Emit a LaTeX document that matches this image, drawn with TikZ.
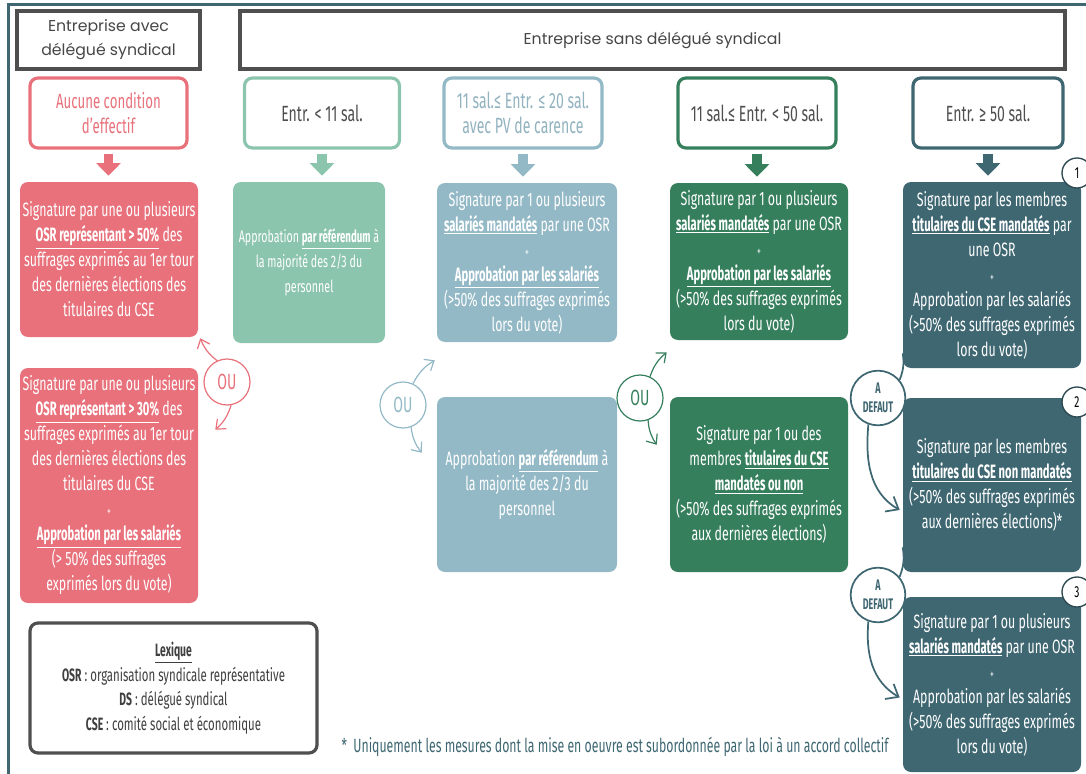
\documentclass[tikz,border=0pt]{standalone}
\usepackage{fontspec}
\setmainfont[FakeStretch=0.64, BoldFeatures={FakeStretch=0.58}]{Fira Sans}
\newfontfamily\titrefont{Poppins}
\usetikzlibrary{arrows.meta,calc}
\definecolor{rouge}{HTML}{E8717B}
\definecolor{vertclair}{HTML}{8CC5AD}
\definecolor{bleugris}{HTML}{94B9C6}
\definecolor{vert}{HTML}{367F5D}
\definecolor{canard}{HTML}{3F6772}
\definecolor{grisfonce}{HTML}{4F4F4F}
\newcommand{\souligne}[1]{\underline{\textbf{#1}}}
\newcommand{\plus}{{\fontsize{9}{18}\selectfont +}}

\begin{document}
\begin{tikzpicture}[x=0.75pt, y=-0.75pt,
  entete/.style={draw=grisfonce, line width=3pt, text=grisfonce!90!black, align=center,
    font=\titrefont\fontsize{11.8}{18}\selectfont},
  condition/.style={draw=#1, fill=white, line width=2.4pt, rounded corners=6pt,
    minimum height=52.5pt, align=center, text=grisfonce, font=\fontsize{16.5}{19}\selectfont},
  bloc/.style={fill=#1, rounded corners=6pt, text=white, align=center, inner sep=0pt,
    font=\fontsize{14.5}{18.75}\selectfont},
  fleche/.style={draw=#1, line width=7pt, -{Triangle[length=9.5pt,width=18pt]},
    shorten <=3pt, shorten >=4.5pt},
  ou/.style={circle, draw=#1, text=#1, fill=white, line width=0.9pt, minimum size=34.5pt,
    inner sep=0pt, font=\fontsize{16.5}{16}\selectfont},
  lien/.style={draw=#1, line width=0.9pt, -{Straight Barb[length=6pt,width=10pt]}},
  trait/.style={draw=canard, line width=1.3pt},
  defaut/.style={circle, draw=canard, text=canard, fill=white, line width=1.3pt,
    minimum size=41pt, inner sep=0pt, align=center, font=\bfseries\fontsize{11.5}{14}\selectfont},
  numero/.style={circle, draw=canard!70!black, fill=white, line width=1pt,
    minimum size=22.5pt, inner sep=0pt, font=\fontsize{12}{12}\selectfont}]
  \useasboundingbox (0,0) rectangle (1086,774);
  \draw[canard, line width=2.25pt] (8,774) -- (8,5) -- (1086,5);

  % en-tetes
  \node[entete, minimum width=137.25pt, minimum height=43.5pt] (hAvec) at (108.5,40) {Entreprise avec\\délégué syndical};
  \node[entete, minimum width=618.75pt, minimum height=43.5pt] (hSans) at (652.5,40) {Entreprise sans délégué syndical};

  % conditions d'effectif
  \node[condition=rouge, text=rouge, minimum width=117.75pt, font=\fontsize{15.5}{19}\selectfont] (cR) at (108.5,113) {Aucune condition\\d'effectif};
  \node[condition=vertclair, minimum width=116.25pt] (cV) at (322,113) {Entr. < 11 sal.};
  \node[condition=bleugris, text=bleugris!90!gray, minimum width=118.5pt] (cB) at (523,113) {11 sal.≤ Entr. ≤ 20 sal.\\avec PV de carence};
  \node[condition=vert, minimum width=118.5pt] (cG) at (757,113) {11 sal.≤ Entr. < 50 sal.};
  \node[condition=canard, minimum width=112.5pt] (cT) at (988,113) {Entr. ≥ 50 sal.};

  % modes de conclusion
  \node[bloc=rouge, minimum width=133.5pt, minimum height=116.25pt] (rA) at (109,259.5)
    {Signature par une ou plusieurs\\\souligne{OSR représentant > 50\%} des\\suffrages exprimés au 1er tour\\des dernières élections des\\titulaires du CSE};
  \node[bloc=rouge, minimum width=133.5pt, minimum height=176.25pt] (rB) at (109,485.5)
    {Signature par une ou plusieurs\\\souligne{OSR représentant > 30\%} des\\suffrages exprimés au 1er tour\\des dernières élections des\\titulaires du CSE\\\plus\\\souligne{Approbation par les salariés}\\(> 50\% des suffrages\\exprimés lors du vote)};
  \node[bloc=vertclair, minimum width=114pt, minimum height=120.75pt, font=\fontsize{12.5}{18.75}\selectfont] (vA) at (309,262.5)
    {Approbation \souligne{par référendum} à\\la majorité des 2/3 du\\personnel};
  \node[bloc=bleugris, minimum width=135pt, minimum height=119.25pt] (bA) at (527,262.5)
    {Signature par 1 ou plusieurs\\\souligne{salariés mandatés} par une OSR\\\plus\\\souligne{Approbation par les salariés}\\(>50\% des suffrages exprimés\\lors du vote)};
  \node[bloc=bleugris, minimum width=135pt, minimum height=131.25pt] (bB) at (527,484.5)
    {Approbation \souligne{par référendum} à\\la majorité des 2/3 du\\personnel};
  \node[bloc=vert, minimum width=133.5pt, minimum height=117.75pt] (gA) at (759,261.5)
    {Signature par 1 ou plusieurs\\\souligne{salariés mandatés} par une OSR\\\plus\\\souligne{Approbation par les salariés}\\(>50\% des suffrages exprimés\\lors du vote)};
  \node[bloc=vert, minimum width=133.5pt, minimum height=131.25pt] (gB) at (759,484.5)
    {Signature par 1 ou des\\membres \souligne{titulaires du CSE}\\\souligne{mandatés ou non}\\(>50\% des suffrages exprimés\\aux dernières élections)};
  \node[bloc=canard, minimum width=133.5pt, minimum height=139.5pt] (tA) at (992,275)
    {Signature par les membres\\\souligne{titulaires du CSE mandatés} par\\une OSR\\\plus\\Approbation par les salariés\\(>50\% des suffrages exprimés\\lors du vote)};
  \node[bloc=canard, minimum width=133.5pt, minimum height=130.5pt] (tB) at (992,485)
    {Signature par les membres\\\souligne{titulaires du CSE non mandatés}\\(>50\% des suffrages exprimés\\aux dernières élections)*};
  \node[bloc=canard, minimum width=133.5pt, minimum height=131.25pt] (tC) at (992,684.5)
    {Signature par 1 ou plusieurs\\\souligne{salariés mandatés} par une OSR\\\plus\\Approbation par les salariés\\(>50\% des suffrages exprimés\\lors du vote)};

  % fleches pleines
  \draw[fleche=rouge] (cR.south) -- (cR.south |- rA.north);
  \draw[fleche=vertclair] (cV.south) -- (cV.south |- vA.north);
  \draw[fleche=bleugris] (cB.south) -- (cB.south |- bA.north);
  \draw[fleche=vert] (cG.south) -- (cG.south |- gA.north);
  \draw[fleche=canard] (cT.south) -- (cT.south |- tA.north);

  % OU
  \node[ou=rouge] (ouR) at (227,382) {OU};
  \node[ou=bleugris] (ouB) at (403,405) {OU};
  \node[ou=vert] (ouG) at (640,398) {OU};
  \coordinate (pR) at ($(rB.north east)+(17,62)$);
  \coordinate (pB1) at ($(bA.south west)+(-2,18)$);
  \coordinate (pB2) at ($(bB.north west)+(-15,56)$);
  \coordinate (pG1) at ($(gA.south west)+(-3,12)$);
  \coordinate (pG2) at ($(gB.north west)+(-13,48)$);
  \draw[lien=rouge] (ouR.115) to[bend left=15] ($(rA.south east)+(2,1)$);
  \draw[lien=rouge] (ouR.-80) to[bend left=15] (pR);
  \draw[lien=bleugris] (ouB.65) to[bend left=15] (pB1);
  \draw[lien=bleugris] (ouB.-70) to[bend right=15] (pB2);
  \draw[lien=vert] (ouG.65) to[bend left=15] (pG1);
  \draw[lien=vert] (ouG.-70) to[bend right=15] (pG2);

  % A DEFAUT
  \node[defaut] (dA) at (878,398) {A\\DEFAUT};
  \node[defaut] (dB) at (878,595) {A\\DEFAUT};
  \coordinate (sA) at ($(tA.south west)+(0,-15)$);
  \coordinate (sB) at ($(tB.south west)+(0,-25)$);
  \coordinate (eA) at ($(tB.west)+(-3,25)$);
  \coordinate (eB) at ($(tC.west)+(-3,13)$);
  \draw[trait] (sA) to[bend left=15] (dA.40);
  \draw[trait] (sB) to[bend left=15] (dB.40);
  \draw[trait, -{Straight Barb[length=8pt,width=13pt]}] (dA.-110) to[out=-95, in=150] (eA);
  \draw[trait, -{Straight Barb[length=8pt,width=13pt]}] (dB.-110) to[out=-95, in=150] (eB);

  % numeros
  \node[numero] (n1) at (1077,173) {1};
  \node[numero] (n2) at (1077,402) {2};
  \node[numero] (n3) at (1077,592) {3};

  % lexique et note
  \node[draw=grisfonce, line width=2.4pt, rounded corners=6pt, fill=white, text=grisfonce!80!black,
    minimum width=215.25pt, minimum height=97.5pt, align=center, font=\fontsize{13.4}{18.4}\selectfont] (lex) at (173.5,688)
    {\souligne{Lexique}\\\textbf{OSR} : organisation syndicale représentative\\\textbf{DS} : délégué syndical\\\textbf{CSE} : comité social et économique};
  \node[text=canard, font=\fontsize{14.4}{15}\selectfont] (note) at (615,747)
    {*~~Uniquement les mesures dont la mise en oeuvre est subordonnée par la loi à un accord collectif};
\end{tikzpicture}
\end{document}
